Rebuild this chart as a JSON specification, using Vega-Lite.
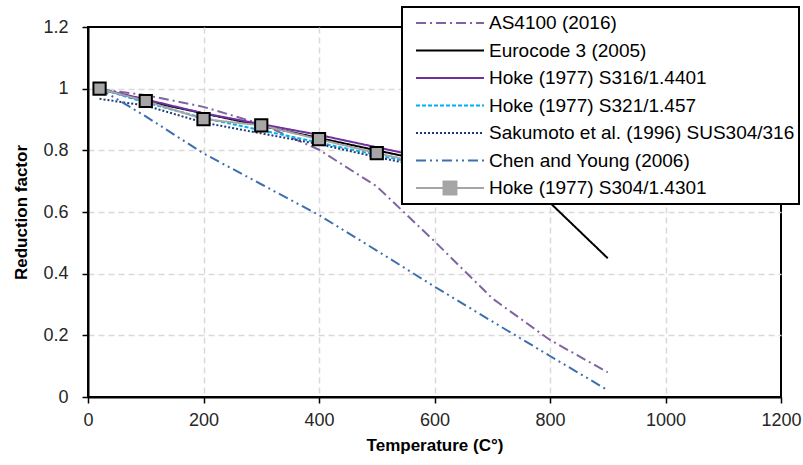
{
  "$schema": "https://vega.github.io/schema/vega-lite/v6.json",
  "width": 693,
  "height": 370,
  "autosize": "none",
  "padding": {"left": 88, "top": 27, "right": 22, "bottom": 68},
  "background": "white",
  "config": {
    "font": "Liberation Sans",
    "view": {"stroke": "black", "strokeWidth": 2}
  },
  "data": {
    "values": [
      {"series": "AS4100 (2016)", "T": 20, "v": 0.998},
      {"series": "AS4100 (2016)", "T": 100, "v": 0.979},
      {"series": "AS4100 (2016)", "T": 200, "v": 0.941},
      {"series": "AS4100 (2016)", "T": 300, "v": 0.885},
      {"series": "AS4100 (2016)", "T": 400, "v": 0.802},
      {"series": "AS4100 (2016)", "T": 500, "v": 0.683},
      {"series": "AS4100 (2016)", "T": 600, "v": 0.505},
      {"series": "AS4100 (2016)", "T": 700, "v": 0.32},
      {"series": "AS4100 (2016)", "T": 800, "v": 0.185},
      {"series": "AS4100 (2016)", "T": 900, "v": 0.08},
      {"series": "Eurocode 3 (2005)", "T": 20, "v": 1.0},
      {"series": "Eurocode 3 (2005)", "T": 100, "v": 0.96},
      {"series": "Eurocode 3 (2005)", "T": 200, "v": 0.92},
      {"series": "Eurocode 3 (2005)", "T": 300, "v": 0.88},
      {"series": "Eurocode 3 (2005)", "T": 400, "v": 0.84},
      {"series": "Eurocode 3 (2005)", "T": 500, "v": 0.8},
      {"series": "Eurocode 3 (2005)", "T": 600, "v": 0.76},
      {"series": "Eurocode 3 (2005)", "T": 700, "v": 0.71},
      {"series": "Eurocode 3 (2005)", "T": 800, "v": 0.63},
      {"series": "Eurocode 3 (2005)", "T": 900, "v": 0.45},
      {"series": "Hoke (1977) S316/1.4401", "T": 20, "v": 1.0},
      {"series": "Hoke (1977) S316/1.4401", "T": 100, "v": 0.965},
      {"series": "Hoke (1977) S316/1.4401", "T": 200, "v": 0.92},
      {"series": "Hoke (1977) S316/1.4401", "T": 300, "v": 0.885},
      {"series": "Hoke (1977) S316/1.4401", "T": 400, "v": 0.85},
      {"series": "Hoke (1977) S316/1.4401", "T": 500, "v": 0.81},
      {"series": "Hoke (1977) S316/1.4401", "T": 600, "v": 0.77},
      {"series": "Hoke (1977) S321/1.457", "T": 20, "v": 1.0},
      {"series": "Hoke (1977) S321/1.457", "T": 100, "v": 0.955},
      {"series": "Hoke (1977) S321/1.457", "T": 200, "v": 0.905},
      {"series": "Hoke (1977) S321/1.457", "T": 300, "v": 0.865},
      {"series": "Hoke (1977) S321/1.457", "T": 400, "v": 0.825},
      {"series": "Hoke (1977) S321/1.457", "T": 500, "v": 0.785},
      {"series": "Hoke (1977) S321/1.457", "T": 600, "v": 0.745},
      {"series": "Sakumoto et al. (1996) SUS304/316", "T": 20, "v": 0.967},
      {"series": "Sakumoto et al. (1996) SUS304/316", "T": 100, "v": 0.945},
      {"series": "Sakumoto et al. (1996) SUS304/316", "T": 200, "v": 0.89},
      {"series": "Sakumoto et al. (1996) SUS304/316", "T": 300, "v": 0.855},
      {"series": "Sakumoto et al. (1996) SUS304/316", "T": 400, "v": 0.82},
      {"series": "Sakumoto et al. (1996) SUS304/316", "T": 500, "v": 0.778},
      {"series": "Sakumoto et al. (1996) SUS304/316", "T": 600, "v": 0.74},
      {"series": "Chen and Young (2006)", "T": 20, "v": 1.0},
      {"series": "Chen and Young (2006)", "T": 100, "v": 0.91},
      {"series": "Chen and Young (2006)", "T": 200, "v": 0.79},
      {"series": "Chen and Young (2006)", "T": 300, "v": 0.69},
      {"series": "Chen and Young (2006)", "T": 400, "v": 0.59},
      {"series": "Chen and Young (2006)", "T": 500, "v": 0.475},
      {"series": "Chen and Young (2006)", "T": 600, "v": 0.358},
      {"series": "Chen and Young (2006)", "T": 700, "v": 0.245},
      {"series": "Chen and Young (2006)", "T": 800, "v": 0.133},
      {"series": "Chen and Young (2006)", "T": 900, "v": 0.022},
      {"series": "Hoke (1977) S304/1.4301", "T": 20, "v": 1.0},
      {"series": "Hoke (1977) S304/1.4301", "T": 100, "v": 0.96},
      {"series": "Hoke (1977) S304/1.4301", "T": 200, "v": 0.901},
      {"series": "Hoke (1977) S304/1.4301", "T": 300, "v": 0.881},
      {"series": "Hoke (1977) S304/1.4301", "T": 400, "v": 0.836},
      {"series": "Hoke (1977) S304/1.4301", "T": 500, "v": 0.791},
      {"series": "Hoke (1977) S304/1.4301", "T": 600, "v": 0.75}
    ]
  },
  "encoding": {
    "x": {
      "field": "T", "type": "quantitative",
      "scale": {"domain": [0, 1200], "nice": false},
      "axis": {
        "title": "Temperature (C°)", "values": [0, 200, 400, 600, 800, 1000, 1200], "format": "d",
        "grid": true, "gridDash": [6, 4], "gridColor": "#D9D9D9", "gridWidth": 1.5,
        "gridOpacity": {"condition": {"test": "datum.value <= 0 || datum.value >= 1200", "value": 0}, "value": 1},
        "domainColor": "black", "domainWidth": 2, "tickColor": "black", "tickSize": 6, "tickWidth": 1.5,
        "labelFontSize": 18, "labelColor": "#262626", "labelPadding": 8, "labelFlush": false,
        "titleFontSize": 17, "titleFontWeight": "bold", "titleColor": "black", "titlePadding": 8
      }
    },
    "y": {
      "field": "v", "type": "quantitative",
      "scale": {"domain": [0, 1.2], "nice": false},
      "axis": {
        "title": "Reduction factor", "values": [0, 0.2, 0.4, 0.6, 0.8, 1, 1.2], "format": "~g",
        "grid": true, "gridDash": [6, 4], "gridColor": "#D9D9D9", "gridWidth": 1.5,
        "gridOpacity": {"condition": {"test": "datum.value <= 0 || datum.value >= 1.2", "value": 0}, "value": 1},
        "domainColor": "black", "domainWidth": 2, "tickColor": "black", "tickSize": 6, "tickWidth": 1.5,
        "labelFontSize": 18, "labelColor": "#262626", "labelPadding": 14,
        "titleFontSize": 17, "titleFontWeight": "bold", "titleColor": "black", "titlePadding": 12
      }
    }
  },
  "layer": [
    {
      "mark": {"type": "line", "strokeWidth": 2},
      "encoding": {
        "color": {
          "field": "series", "type": "nominal",
          "scale": {
            "domain": ["AS4100 (2016)", "Eurocode 3 (2005)", "Hoke (1977) S316/1.4401", "Hoke (1977) S321/1.457", "Sakumoto et al. (1996) SUS304/316", "Chen and Young (2006)", "Hoke (1977) S304/1.4301"],
            "range": ["#8064A2", "#000000", "#7030A0", "#00B0F0", "#1F3A7A", "#3B6FB0", "#A5A5A5"]
          },
          "legend": {
            "orient": "none", "legendX": 314, "legendY": -20, "title": null,
            "symbolType": "stroke", "symbolSize": 4624, "symbolStrokeWidth": 2,
            "clipHeight": 24, "rowPadding": 3.5, "padding": 4,
            "symbolOffset": 9, "labelOffset": 4,
            "labelFontSize": 19, "labelColor": "black", "labelLimit": 500,
            "fillColor": "white", "strokeColor": "black", "zindex": 1,
            "encode": {
              "symbols": {"update": {
                "shape": [{"test": "datum.value === 'Hoke (1977) S304/1.4301'", "value": "M-1,0H-0.19M0.19,0H1M-0.19,-0.19H0.19V0.19H-0.19Z"}, {"value": "stroke"}],
                "fill": [{"test": "datum.value === 'Hoke (1977) S304/1.4301'", "value": "#A6A6A6"}, {"value": "transparent"}]
              }},
              "legend": {"update": {"strokeWidth": {"value": 2}}}
            }
          }
        },
        "strokeDash": {
          "field": "series", "type": "nominal",
          "scale": {
            "domain": ["AS4100 (2016)", "Eurocode 3 (2005)", "Hoke (1977) S316/1.4401", "Hoke (1977) S321/1.457", "Sakumoto et al. (1996) SUS304/316", "Chen and Young (2006)", "Hoke (1977) S304/1.4301"],
            "range": [[10, 4, 2, 4], [1, 0], [1, 0], [4, 2], [2, 2], [10, 4, 2, 4, 2, 4], [1, 0]]
          }
        }
      }
    },
    {
      "transform": [{"filter": "datum.series === 'Hoke (1977) S304/1.4301'"}],
      "mark": {"type": "point", "shape": "square", "filled": true, "fill": "#A6A6A6", "stroke": "black", "strokeWidth": 2, "size": 150, "opacity": 1}
    }
  ]
}
